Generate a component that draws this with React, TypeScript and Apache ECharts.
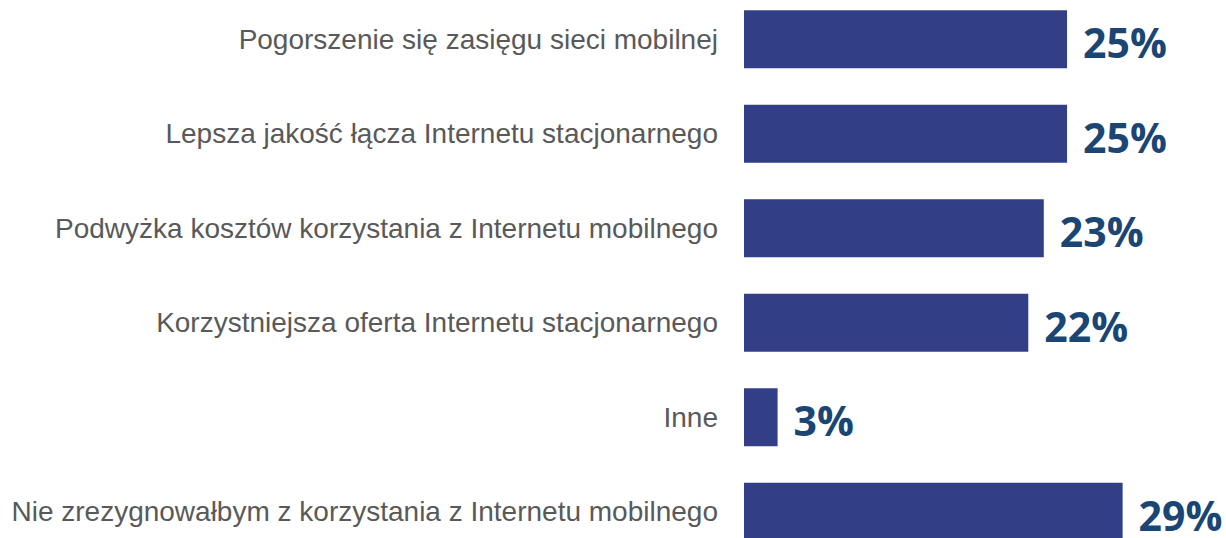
import React, { useEffect, useRef } from "react";
import * as echarts from "echarts";

const categories = [
  "Pogorszenie się zasięgu sieci mobilnej",
  "Lepsza jakość łącza Internetu stacjonarnego",
  "Podwyżka kosztów korzystania z Internetu mobilnego",
  "Korzystniejsza oferta Internetu stacjonarnego",
  "Inne",
  "Nie zrezygnowałbym z korzystania z Internetu mobilnego",
];
const values = [25.0, 25.0, 23.2, 22.0, 2.6, 29.3];

export default function App() {
  const ref = useRef<HTMLDivElement>(null);
  useEffect(() => {
    if (!ref.current) return;
    const chart = echarts.init(ref.current, undefined, { renderer: "svg" });
    chart.setOption({
      animation: false,
      grid: { left: 744, right: 0, top: 0, bottom: 0, containLabel: false },
      xAxis: { type: "value", min: 0, max: 37.3, show: false },
      yAxis: {
        type: "category",
        data: categories,
        inverse: true,
        axisLine: { show: false },
        axisTick: { show: false },
        splitLine: { show: false },
        axisLabel: {
          margin: 26,
          fontSize: 28,
          color: "#595959",
          fontFamily: "'Liberation Sans', Arial, sans-serif",
        },
      },
      series: [
        {
          type: "bar",
          data: values,
          barWidth: 58,
          itemStyle: { color: "#323F86" },
          label: {
            show: true,
            position: "right",
            distance: 16,
            formatter: (p: any) => Math.round(p.value) + "%",
            fontSize: 41,
            lineHeight: 36,
            fontWeight: "bold",
            fontFamily: "'Open Sans', sans-serif",
            color: "#1B4674",
            offset: [0, 3],
          },
        },
      ],
    });
    return () => chart.dispose();
  }, []);
  return (
    <div
      ref={ref}
      style={{ position: "fixed", left: 0, top: -8, width: 1226, height: 567, background: "#fff" }}
    />
  );
}
